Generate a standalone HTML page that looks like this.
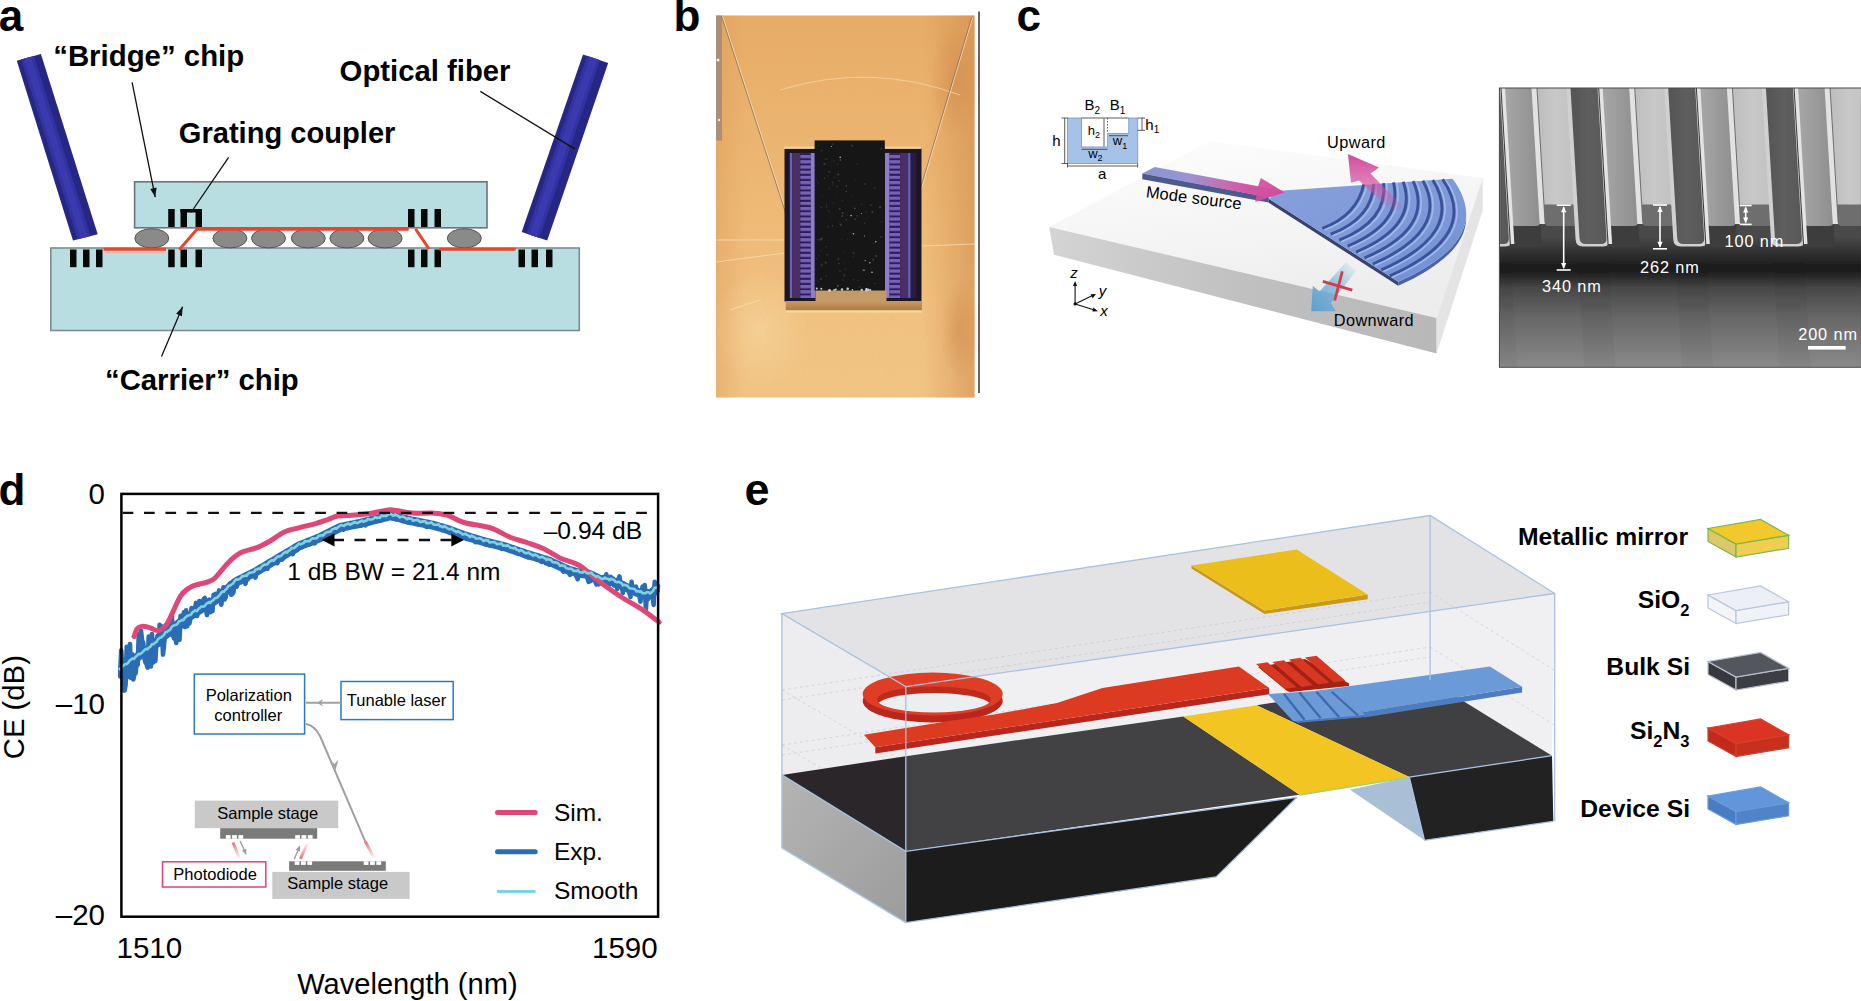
<!DOCTYPE html>
<html><head><meta charset="utf-8"><title>Figure</title>
<style>html,body{margin:0;padding:0;background:#fff;}body{width:1861px;height:1001px;overflow:hidden;}
svg{display:block;font-family:"Liberation Sans",sans-serif;}</style></head>
<body><svg width="1861" height="1001" viewBox="0 0 1861 1001">
<rect width="1861" height="1001" fill="#fff"/>
<text x="-1.3" y="31.3" font-size="44" font-weight="bold" text-anchor="start" fill="#000" >a</text>
<text x="673.6" y="31.2" font-size="44" font-weight="bold" text-anchor="start" fill="#000" >b</text>
<text x="1016.6" y="31.3" font-size="44" font-weight="bold" text-anchor="start" fill="#000" >c</text>
<text x="-1.6" y="505.4" font-size="44" font-weight="bold" text-anchor="start" fill="#000" >d</text>
<defs>
<linearGradient id="fib" x1="0" y1="0" x2="1" y2="0">
<stop offset="0" stop-color="#22227a"/><stop offset="0.35" stop-color="#3a3aa8"/><stop offset="0.6" stop-color="#3232a0"/><stop offset="1" stop-color="#1c1c6e"/></linearGradient>
</defs>
<polygon points="16.8,60.8 40.9,54.1 97.7,234.2 73,240.5" fill="#262684"/>
<polygon points="21,59.6 34,56 90.6,236 77.6,239.3" fill="#3232a0"/>
<polygon points="24,58.8 31,56.8 87.5,236.8 80.5,238.6" fill="#3a3aae"/>
<polygon points="583,54.5 608.2,62.9 547.2,240.5 521.7,232" fill="#262684"/>
<polygon points="587,55.8 600,60.2 539.5,238 526.5,233.6" fill="#3232a0"/>
<polygon points="590,56.8 597,59.2 536.5,237 529.5,234.6" fill="#3a3aae"/>
<rect x="50.8" y="248" width="528.5" height="82.5" fill="#b8dee2" stroke="#7d8c90" stroke-width="1.6"/>
<rect x="134.6" y="181.8" width="352.4" height="46" fill="#b8dee2" stroke="#6d7478" stroke-width="1.6"/>
<ellipse cx="151.8" cy="238.3" rx="17" ry="9.6" fill="#8a8a8a" stroke="#555" stroke-width="1"/>
<ellipse cx="229.9" cy="238.3" rx="17" ry="9.6" fill="#8a8a8a" stroke="#555" stroke-width="1"/>
<ellipse cx="268.5" cy="238.3" rx="17" ry="9.6" fill="#8a8a8a" stroke="#555" stroke-width="1"/>
<ellipse cx="308.3" cy="238.3" rx="17" ry="9.6" fill="#8a8a8a" stroke="#555" stroke-width="1"/>
<ellipse cx="346.9" cy="238.3" rx="17" ry="9.6" fill="#8a8a8a" stroke="#555" stroke-width="1"/>
<ellipse cx="385.1" cy="238.3" rx="17" ry="9.6" fill="#8a8a8a" stroke="#555" stroke-width="1"/>
<ellipse cx="464.3" cy="238.3" rx="17" ry="9.6" fill="#8a8a8a" stroke="#555" stroke-width="1"/>
<rect x="70" y="249.5" width="6.5" height="17.69999999999999" fill="#080808"/>
<rect x="83" y="249.5" width="6.5" height="17.69999999999999" fill="#080808"/>
<rect x="96" y="249.5" width="6.5" height="17.69999999999999" fill="#080808"/>
<rect x="168.2" y="249.5" width="6.5" height="17.69999999999999" fill="#080808"/>
<rect x="180.5" y="249.5" width="6.5" height="17.69999999999999" fill="#080808"/>
<rect x="195.5" y="249.5" width="6.5" height="17.69999999999999" fill="#080808"/>
<rect x="408" y="249.5" width="6.5" height="17.69999999999999" fill="#080808"/>
<rect x="421" y="249.5" width="6.5" height="17.69999999999999" fill="#080808"/>
<rect x="434.5" y="249.5" width="6.5" height="17.69999999999999" fill="#080808"/>
<rect x="518.5" y="249.5" width="6.5" height="17.69999999999999" fill="#080808"/>
<rect x="531.5" y="249.5" width="6.5" height="17.69999999999999" fill="#080808"/>
<rect x="546" y="249.5" width="6.5" height="17.69999999999999" fill="#080808"/>
<rect x="168.2" y="209" width="6.5" height="18" fill="#080808"/>
<rect x="180.5" y="209" width="6.5" height="18" fill="#080808"/>
<rect x="195.5" y="209" width="6.5" height="18" fill="#080808"/>
<rect x="180.5" y="209" width="21.5" height="3.5" fill="#080808"/>
<rect x="408" y="209" width="6.5" height="18" fill="#080808"/>
<rect x="421" y="209" width="6.5" height="18" fill="#080808"/>
<rect x="434.5" y="209" width="6.5" height="18" fill="#080808"/>
<polyline points="103.6,249.2 166,249.2" stroke="#e8452c" stroke-width="3" fill="none"/>
<polyline points="104,252.8 166,252.8" stroke="#f3b6a8" stroke-width="1.5" fill="none"/>
<polyline points="179.2,249.8 197,229.2 408.7,229.2" stroke="#e8452c" stroke-width="3" fill="none"/>
<polyline points="415.5,228.8 429.1,249 " stroke="#e8452c" stroke-width="3" fill="none"/>
<polyline points="439.3,249.2 515.7,249.2" stroke="#e8452c" stroke-width="3" fill="none"/>
<line x1="132.1" y1="82.4" x2="155.2" y2="197.1" stroke="#111" stroke-width="1.3"/>
<polygon points="155.2,197.1 150.3,188.9 156.6,187.6" fill="#111"/>
<line x1="228.6" y1="157.3" x2="191" y2="212.5" stroke="#111" stroke-width="1.3"/>
<line x1="480.3" y1="91.4" x2="574.7" y2="148.9" stroke="#111" stroke-width="1.3"/>
<line x1="161.5" y1="356.5" x2="182.6" y2="306.7" stroke="#111" stroke-width="1.3"/>
<polygon points="182.6,306.7 182.0,316.2 176.1,313.7" fill="#111"/>
<text x="53.2" y="66" font-size="29.4" font-weight="bold" text-anchor="start" fill="#000" >“Bridge” chip</text>
<text x="339.6" y="80.6" font-size="29.3" font-weight="bold" text-anchor="start" fill="#000" >Optical fiber</text>
<text x="178.8" y="142.6" font-size="29.1" font-weight="bold" text-anchor="start" fill="#000" >Grating coupler</text>
<text x="105" y="390" font-size="29.3" font-weight="bold" text-anchor="start" fill="#000" >“Carrier” chip</text>
<defs><filter id="soft" x="-2%" y="-2%" width="104%" height="104%"><feGaussianBlur stdDeviation="0.55"/></filter><filter id="soft2" x="-2%" y="-2%" width="104%" height="104%"><feGaussianBlur stdDeviation="0.4"/></filter></defs>
<g filter="url(#soft)">
<defs>
<radialGradient id="tan" cx="0.5" cy="0.45" r="0.75">
<stop offset="0" stop-color="#e8b778"/><stop offset="0.6" stop-color="#e0aa66"/><stop offset="1" stop-color="#d49a54"/></radialGradient>
<linearGradient id="brz" x1="0" y1="0" x2="0" y2="1"><stop offset="0" stop-color="#c8b090"/><stop offset="1" stop-color="#8f7a5c"/></linearGradient>
<pattern id="pgr" x="0" y="155" width="20" height="5.2" patternUnits="userSpaceOnUse">
<rect width="20" height="5.2" fill="#2a1a58"/><rect x="0" y="0" width="20" height="3.2" fill="#7862b8"/></pattern>
</defs>
<defs><linearGradient id="tanV" x1="0" y1="0" x2="0" y2="1"><stop offset="0" stop-color="#e9ad66"/><stop offset="0.35" stop-color="#eeb670"/><stop offset="0.75" stop-color="#f3c27e"/><stop offset="1" stop-color="#f4c684"/></linearGradient><linearGradient id="tanH" x1="0" y1="0" x2="1" y2="0"><stop offset="0" stop-color="#d89450" stop-opacity="0.35"/><stop offset="0.12" stop-color="#d89450" stop-opacity="0"/><stop offset="0.8" stop-color="#d08848" stop-opacity="0"/><stop offset="1" stop-color="#d08848" stop-opacity="0.55"/></linearGradient><radialGradient id="blot" cx="0.5" cy="0.5" r="0.5"><stop offset="0" stop-color="#c87838" stop-opacity="0.35"/><stop offset="1" stop-color="#c87838" stop-opacity="0"/></radialGradient><radialGradient id="lite" cx="0.5" cy="0.5" r="0.5"><stop offset="0" stop-color="#fbe0b0" stop-opacity="0.45"/><stop offset="1" stop-color="#fbe0b0" stop-opacity="0"/></radialGradient><filter id="grain" x="0" y="0" width="1" height="1"><feTurbulence type="fractalNoise" baseFrequency="0.35" numOctaves="2" seed="4"/><feColorMatrix values="0 0 0 0 0.5  0 0 0 0 0.35  0 0 0 0 0.2  0 0 0 0.10 0"/><feComposite in2="SourceGraphic" operator="in"/></filter></defs>
<rect x="716" y="15.5" width="258.5" height="382" fill="url(#tanV)"/>
<rect x="716" y="15.5" width="258.5" height="382" fill="url(#tanH)"/>
<ellipse cx="955" cy="80" rx="25" ry="60" fill="url(#blot)"/>
<ellipse cx="960" cy="330" rx="20" ry="50" fill="url(#blot)"/>
<ellipse cx="760" cy="330" rx="50" ry="60" fill="url(#lite)"/>
<rect x="716" y="15.5" width="258.5" height="382" fill="#fff" filter="url(#grain)"/>
<rect x="716" y="15.5" width="6" height="125" fill="#a08a78" opacity="0.85"/>
<circle cx="718" cy="60" r="1.5" fill="#f0f0f0"/><circle cx="719" cy="120" r="1.2" fill="#f0f0f0"/>
<path d="M780,90 Q870,62 960,95" stroke="#f8d8a8" stroke-width="1" fill="none" opacity="0.7"/>
<path d="M716,240 L785,240 M716,262 L785,253 M921,246 L974,244 M730,310 L760,300" stroke="#f8dcb0" stroke-width="1" fill="none" opacity="0.8"/>
<line x1="722.5" y1="16" x2="791.5" y2="228" stroke="#f4e2c4" stroke-width="1" opacity="0.8"/>
<line x1="721.5" y1="16" x2="790.5" y2="228" stroke="#8c7058" stroke-width="0.9" opacity="0.85"/>
<line x1="972.5" y1="18" x2="912.5" y2="218" stroke="#f4e2c4" stroke-width="1" opacity="0.8"/>
<line x1="971.5" y1="18" x2="911.5" y2="218" stroke="#8c7058" stroke-width="0.9" opacity="0.85"/>
<rect x="784.5" y="148.5" width="137" height="153" fill="#1e1420"/>
<rect x="784" y="146.5" width="31" height="2.5" fill="#f4d8a0" opacity="0.8"/><rect x="885" y="146.5" width="36" height="2.5" fill="#f4d8a0" opacity="0.8"/>
<rect x="789.8" y="153" width="2.4" height="145" fill="#6464c4"/>
<rect x="792.2" y="153" width="8.1" height="145" fill="#4c2e64"/>
<rect x="800.3" y="153" width="10.5" height="145" fill="url(#pgr)"/>
<rect x="810.8" y="153" width="4.6" height="145" fill="#8e7ec8"/>
<rect x="885" y="153" width="4.6" height="145" fill="#8e7ec8"/>
<rect x="889.6" y="153" width="10.5" height="145" fill="url(#pgr)"/>
<rect x="900.1" y="153" width="8.1" height="145" fill="#4c2e64"/>
<rect x="908.2" y="153" width="2.4" height="145" fill="#6464c4"/>
<rect x="910.6" y="153" width="6" height="145" fill="#2a1e40"/>
<defs><linearGradient id="brz2" x1="0" y1="0" x2="0" y2="1"><stop offset="0" stop-color="#c89a62"/><stop offset="1" stop-color="#ae7c46"/></linearGradient></defs>
<rect x="785.7" y="301" width="136.3" height="9.4" fill="url(#brz2)"/>
<rect x="785.7" y="310.4" width="136.3" height="2.2" fill="#f6d89e"/>
<rect x="815.5" y="290.2" width="71" height="10.8" fill="#c49a68"/>
<rect x="814.6" y="140.4" width="70.2" height="150" fill="#161616"/>
<circle cx="837.7" cy="164.0" r="0.9" fill="#555" opacity="0.33"/>
<circle cx="851.9" cy="195.4" r="0.5" fill="#555" opacity="0.50"/>
<circle cx="818.5" cy="205.3" r="0.5" fill="#555" opacity="0.34"/>
<circle cx="844.4" cy="262.7" r="0.6" fill="#555" opacity="0.39"/>
<circle cx="858.0" cy="280.4" r="0.8" fill="#555" opacity="0.46"/>
<circle cx="881.4" cy="148.8" r="1.0" fill="#555" opacity="0.42"/>
<circle cx="825.7" cy="159.2" r="0.7" fill="#555" opacity="0.63"/>
<circle cx="828.1" cy="226.9" r="0.9" fill="#555" opacity="0.45"/>
<circle cx="852.7" cy="151.2" r="0.5" fill="#555" opacity="0.38"/>
<circle cx="861.6" cy="204.4" r="0.7" fill="#555" opacity="0.53"/>
<circle cx="846.4" cy="185.8" r="1.0" fill="#555" opacity="0.58"/>
<circle cx="832.4" cy="225.9" r="0.8" fill="#555" opacity="0.65"/>
<circle cx="864.9" cy="184.0" r="1.1" fill="#555" opacity="0.35"/>
<circle cx="844.0" cy="252.5" r="0.6" fill="#555" opacity="0.50"/>
<circle cx="818.6" cy="239.6" r="1.0" fill="#555" opacity="0.53"/>
<circle cx="874.7" cy="187.8" r="0.9" fill="#555" opacity="0.54"/>
<circle cx="854.9" cy="208.6" r="1.0" fill="#555" opacity="0.68"/>
<circle cx="847.8" cy="239.0" r="0.5" fill="#555" opacity="0.58"/>
<circle cx="859.4" cy="287.0" r="1.0" fill="#555" opacity="0.41"/>
<circle cx="841.8" cy="239.6" r="0.5" fill="#555" opacity="0.48"/>
<circle cx="827.3" cy="159.1" r="0.5" fill="#555" opacity="0.61"/>
<circle cx="824.7" cy="178.2" r="0.7" fill="#555" opacity="0.65"/>
<circle cx="821.4" cy="207.6" r="0.8" fill="#555" opacity="0.65"/>
<circle cx="870.9" cy="268.1" r="0.7" fill="#555" opacity="0.47"/>
<circle cx="840.0" cy="271.1" r="1.1" fill="#555" opacity="0.36"/>
<circle cx="827.8" cy="175.9" r="0.6" fill="#555" opacity="0.49"/>
<circle cx="855.5" cy="180.4" r="0.5" fill="#555" opacity="0.47"/>
<circle cx="840.7" cy="224.7" r="1.1" fill="#555" opacity="0.58"/>
<circle cx="850.5" cy="232.2" r="0.9" fill="#555" opacity="0.32"/>
<circle cx="876.3" cy="255.9" r="1.0" fill="#555" opacity="0.62"/>
<circle cx="842.3" cy="200.3" r="0.6" fill="#555" opacity="0.55"/>
<circle cx="820.2" cy="151.8" r="0.6" fill="#555" opacity="0.36"/>
<circle cx="838.8" cy="149.7" r="0.5" fill="#555" opacity="0.36"/>
<circle cx="822.8" cy="195.1" r="0.5" fill="#555" opacity="0.65"/>
<circle cx="857.1" cy="163.7" r="0.7" fill="#555" opacity="0.44"/>
<circle cx="840.4" cy="159.9" r="1.0" fill="#555" opacity="0.70"/>
<circle cx="847.2" cy="212.6" r="0.6" fill="#555" opacity="0.34"/>
<circle cx="839.0" cy="180.7" r="1.0" fill="#555" opacity="0.36"/>
<circle cx="817.5" cy="280.8" r="0.8" fill="#555" opacity="0.36"/>
<circle cx="852.4" cy="145.9" r="0.8" fill="#555" opacity="0.69"/>
<circle cx="873.8" cy="243.6" r="0.7" fill="#555" opacity="0.45"/>
<circle cx="827.2" cy="254.7" r="0.8" fill="#555" opacity="0.61"/>
<circle cx="838.1" cy="174.6" r="1.0" fill="#555" opacity="0.69"/>
<circle cx="873.1" cy="259.7" r="1.0" fill="#555" opacity="0.60"/>
<circle cx="831.2" cy="217.6" r="0.7" fill="#555" opacity="0.31"/>
<circle cx="817.9" cy="182.8" r="0.7" fill="#555" opacity="0.58"/>
<circle cx="880.1" cy="207.3" r="1.1" fill="#555" opacity="0.70"/>
<circle cx="880.0" cy="195.2" r="0.6" fill="#555" opacity="0.39"/>
<circle cx="829.2" cy="171.8" r="0.9" fill="#555" opacity="0.66"/>
<circle cx="872.3" cy="212.0" r="0.9" fill="#555" opacity="0.62"/>
<circle cx="821.7" cy="238.4" r="1.0" fill="#555" opacity="0.61"/>
<circle cx="866.3" cy="211.8" r="0.6" fill="#555" opacity="0.62"/>
<circle cx="838.3" cy="258.9" r="1.1" fill="#555" opacity="0.46"/>
<circle cx="842.9" cy="280.2" r="0.9" fill="#555" opacity="0.37"/>
<circle cx="824.5" cy="164.1" r="1.0" fill="#555" opacity="0.62"/>
<circle cx="825.8" cy="262.7" r="1.1" fill="#555" opacity="0.56"/>
<circle cx="839.5" cy="222.1" r="0.6" fill="#555" opacity="0.31"/>
<circle cx="881.0" cy="236.9" r="0.8" fill="#555" opacity="0.67"/>
<circle cx="845.1" cy="269.3" r="1.0" fill="#555" opacity="0.38"/>
<circle cx="832.9" cy="184.8" r="0.6" fill="#555" opacity="0.53"/>
<circle cx="833.4" cy="203.2" r="0.6" fill="#555" opacity="0.66"/>
<circle cx="839.7" cy="208.9" r="0.9" fill="#555" opacity="0.66"/>
<circle cx="844.2" cy="276.0" r="0.8" fill="#555" opacity="0.51"/>
<circle cx="851.1" cy="144.7" r="0.8" fill="#555" opacity="0.37"/>
<circle cx="816.3" cy="258.7" r="0.6" fill="#555" opacity="0.49"/>
<circle cx="864.6" cy="223.2" r="0.7" fill="#555" opacity="0.51"/>
<circle cx="853.2" cy="256.5" r="0.6" fill="#555" opacity="0.52"/>
<circle cx="832.6" cy="182.4" r="1.0" fill="#555" opacity="0.50"/>
<circle cx="853.6" cy="253.0" r="1.0" fill="#555" opacity="0.48"/>
<circle cx="857.0" cy="215.8" r="0.8" fill="#555" opacity="0.58"/>
<circle cx="846.3" cy="219.9" r="0.8" fill="#555" opacity="0.68"/>
<circle cx="862.8" cy="270.0" r="1.1" fill="#555" opacity="0.40"/>
<circle cx="853.5" cy="279.7" r="1.0" fill="#555" opacity="0.35"/>
<circle cx="824.1" cy="206.5" r="0.5" fill="#555" opacity="0.40"/>
<circle cx="820.9" cy="239.7" r="1.0" fill="#555" opacity="0.66"/>
<circle cx="826.3" cy="246.6" r="0.9" fill="#555" opacity="0.36"/>
<circle cx="875.1" cy="283.3" r="0.6" fill="#555" opacity="0.68"/>
<circle cx="842.7" cy="213.1" r="1.1" fill="#555" opacity="0.63"/>
<circle cx="826.8" cy="205.0" r="0.8" fill="#555" opacity="0.44"/>
<circle cx="829.1" cy="188.5" r="0.9" fill="#555" opacity="0.31"/>
<circle cx="853.1" cy="206.3" r="0.5" fill="#555" opacity="0.43"/>
<circle cx="857.8" cy="216.8" r="0.5" fill="#555" opacity="0.69"/>
<circle cx="868.8" cy="283.9" r="0.6" fill="#555" opacity="0.41"/>
<circle cx="818.7" cy="255.7" r="0.7" fill="#555" opacity="0.35"/>
<circle cx="844.3" cy="275.1" r="1.0" fill="#555" opacity="0.40"/>
<circle cx="826.0" cy="276.2" r="0.8" fill="#555" opacity="0.58"/>
<circle cx="822.0" cy="150.4" r="0.9" fill="#555" opacity="0.47"/>
<circle cx="820.9" cy="279.0" r="0.9" fill="#555" opacity="0.62"/>
<circle cx="821.6" cy="267.0" r="0.5" fill="#555" opacity="0.65"/>
<circle cx="846.4" cy="191.5" r="0.8" fill="#555" opacity="0.67"/>
<circle cx="833.9" cy="160.9" r="0.8" fill="#555" opacity="0.40"/>
<circle cx="823.3" cy="165.6" r="0.5" fill="#555" opacity="0.38"/>
<circle cx="836.9" cy="186.5" r="1.0" fill="#555" opacity="0.42"/>
<circle cx="849.5" cy="168.0" r="0.7" fill="#555" opacity="0.31"/>
<circle cx="832.8" cy="144.2" r="0.9" fill="#555" opacity="0.52"/>
<circle cx="828.7" cy="211.3" r="1.1" fill="#555" opacity="0.34"/>
<circle cx="870.9" cy="205.1" r="0.8" fill="#555" opacity="0.63"/>
<circle cx="842.3" cy="216.0" r="0.9" fill="#555" opacity="0.69"/>
<circle cx="839.0" cy="263.5" r="0.9" fill="#555" opacity="0.55"/>
<circle cx="843.1" cy="192.7" r="0.5" fill="#555" opacity="0.35"/>
<circle cx="820.7" cy="250.2" r="0.7" fill="#555" opacity="0.37"/>
<circle cx="821.7" cy="264.8" r="1.0" fill="#555" opacity="0.57"/>
<circle cx="834.9" cy="177.4" r="0.7" fill="#555" opacity="0.48"/>
<circle cx="826.6" cy="207.1" r="0.7" fill="#555" opacity="0.68"/>
<circle cx="881.2" cy="221.9" r="0.6" fill="#555" opacity="0.69"/>
<circle cx="836.7" cy="194.1" r="0.5" fill="#555" opacity="0.45"/>
<circle cx="847.8" cy="215.4" r="0.6" fill="#555" opacity="0.50"/>
<circle cx="816.3" cy="180.6" r="0.6" fill="#555" opacity="0.46"/>
<circle cx="818.8" cy="145.3" r="0.7" fill="#555" opacity="0.39"/>
<circle cx="855.2" cy="219.3" r="1.0" fill="#555" opacity="0.56"/>
<circle cx="864.0" cy="270.3" r="0.7" fill="#ddd" opacity="0.8"/>
<circle cx="837.9" cy="285.8" r="0.6" fill="#ddd" opacity="0.8"/>
<circle cx="864.5" cy="235.9" r="0.5" fill="#ddd" opacity="0.8"/>
<circle cx="872.0" cy="272.2" r="0.8" fill="#ddd" opacity="0.8"/>
<circle cx="865.2" cy="260.6" r="0.6" fill="#ddd" opacity="0.8"/>
<circle cx="851.1" cy="215.6" r="0.8" fill="#ddd" opacity="0.8"/>
<circle cx="869.9" cy="262.7" r="0.7" fill="#ddd" opacity="0.8"/>
<circle cx="875.8" cy="241.7" r="0.8" fill="#ddd" opacity="0.8"/>
<circle cx="831.4" cy="146.5" r="0.6" fill="#ddd" opacity="0.8"/>
<circle cx="840.2" cy="157.3" r="0.8" fill="#ddd" opacity="0.8"/>
<circle cx="853.4" cy="233.7" r="0.8" fill="#ddd" opacity="0.8"/>
<circle cx="861.6" cy="213.4" r="0.5" fill="#ddd" opacity="0.8"/>
<circle cx="870.2" cy="290.0" r="1.1" fill="#e8e8f0" opacity="0.85"/>
<circle cx="852.4" cy="289.8" r="0.8" fill="#e8e8f0" opacity="0.85"/>
<circle cx="866.1" cy="289.0" r="0.8" fill="#e8e8f0" opacity="0.85"/>
<circle cx="834.1" cy="290.0" r="0.9" fill="#e8e8f0" opacity="0.85"/>
<circle cx="866.3" cy="290.5" r="1.1" fill="#e8e8f0" opacity="0.85"/>
<circle cx="842.0" cy="289.5" r="1.2" fill="#e8e8f0" opacity="0.85"/>
<circle cx="868.2" cy="289.7" r="1.2" fill="#e8e8f0" opacity="0.85"/>
<circle cx="821.3" cy="288.8" r="1.0" fill="#e8e8f0" opacity="0.85"/>
<circle cx="866.5" cy="289.1" r="1.1" fill="#e8e8f0" opacity="0.85"/>
<circle cx="816.8" cy="288.6" r="1.0" fill="#e8e8f0" opacity="0.85"/>
<circle cx="861.7" cy="289.9" r="1.2" fill="#e8e8f0" opacity="0.85"/>
<circle cx="835.8" cy="289.5" r="1.1" fill="#e8e8f0" opacity="0.85"/>
<circle cx="847.7" cy="288.7" r="1.3" fill="#e8e8f0" opacity="0.85"/>
<circle cx="829.5" cy="290.5" r="1.4" fill="#e8e8f0" opacity="0.85"/>
</g>
<line x1="979" y1="11.5" x2="979" y2="393" stroke="#4b5364" stroke-width="1.8"/>
<defs>
<linearGradient id="slabtop" x1="0" y1="0" x2="0.3" y2="1"><stop offset="0" stop-color="#fdfdfd"/><stop offset="0.5" stop-color="#f6f6f6"/><stop offset="1" stop-color="#ededed"/></linearGradient>
<linearGradient id="slabfront" x1="0" y1="0" x2="1" y2="0"><stop offset="0" stop-color="#d4d4d4"/><stop offset="0.5" stop-color="#c0c0c0"/><stop offset="1" stop-color="#b8b8b8"/></linearGradient>
<linearGradient id="wgtop" x1="0" y1="0" x2="1" y2="0"><stop offset="0" stop-color="#8696d4"/><stop offset="0.45" stop-color="#a294d2"/><stop offset="0.75" stop-color="#c888c4"/><stop offset="1" stop-color="#d070b0"/></linearGradient>
<linearGradient id="pinkR" x1="0" y1="0" x2="1" y2="0"><stop offset="0" stop-color="#d4509e" stop-opacity="0"/><stop offset="0.6" stop-color="#d4509e" stop-opacity="0.85"/><stop offset="1" stop-color="#d24a9c"/></linearGradient>
<linearGradient id="pinkU" x1="0" y1="1" x2="0" y2="0"><stop offset="0" stop-color="#d4509e" stop-opacity="0"/><stop offset="0.5" stop-color="#d4509e" stop-opacity="0.7"/><stop offset="1" stop-color="#d24a9c"/></linearGradient>
<linearGradient id="bluD" x1="1" y1="0" x2="0" y2="1"><stop offset="0" stop-color="#78b8e0" stop-opacity="0"/><stop offset="0.5" stop-color="#6aacd6" stop-opacity="0.7"/><stop offset="1" stop-color="#5aa2d0"/></linearGradient>
<linearGradient id="fan" x1="0" y1="0" x2="1" y2="1"><stop offset="0" stop-color="#86a0dc"/><stop offset="0.5" stop-color="#7f9ad8"/><stop offset="1" stop-color="#7090d2"/></linearGradient>
</defs>
<polygon points="1049.2,227.1 1210,141 1482.8,178 1436.6,318" fill="url(#slabtop)"/>
<polygon points="1049.2,227.1 1436.6,318 1436.6,353.4 1054,254.7" fill="url(#slabfront)"/>
<polygon points="1436.6,318 1482.8,178 1482.8,210.3 1436.6,353.4" fill="#e4e4e4"/>
<polygon points="1142.3,173.4 1154.7,166.9 1282,190.5 1268.8,197.2" fill="url(#wgtop)"/>
<polygon points="1142.3,173.4 1268.8,197.2 1268.8,202.5 1142.3,179.3" fill="#4d5a8e"/>
<polygon points="1268.8,198.7 1398.2,281.8 1398.2,285.8 1268.8,202.7" fill="#39446e"/>
<polygon points="1466.1,216.4 1465.5,220.9 1464.5,225.3 1463.0,229.7 1461.0,234.0 1458.5,238.3 1455.5,242.5 1452.0,246.7 1448.0,250.8 1443.5,254.8 1438.5,258.8 1433.0,262.8 1427.0,266.7 1420.6,270.6 1413.6,274.4 1406.2,278.1 1398.2,281.8 1398.2,285.8 1406.2,282.1 1413.6,278.4 1420.6,274.6 1427.0,270.7 1433.0,266.8 1438.5,262.8 1443.5,258.8 1448.0,254.8 1452.0,250.7 1455.5,246.5 1458.5,242.3 1461.0,238.0 1463.0,233.7 1464.5,229.3 1465.5,224.9 1466.1,220.4" fill="#4a62a8"/>
<polygon points="1268.8,198.7 1280.0,190.7 1452.5,178.7 1455.9,183.6 1458.9,188.4 1461.3,193.2 1463.2,198.0 1464.7,202.7 1465.6,207.3 1466.1,211.9 1466.1,216.4 1465.5,220.9 1464.5,225.3 1463.0,229.7 1461.0,234.0 1458.5,238.3 1455.5,242.5 1452.0,246.7 1448.0,250.8 1443.5,254.8 1438.5,258.8 1433.0,262.8 1427.0,266.7 1420.6,270.6 1413.6,274.4 1406.2,278.1 1398.2,281.8" fill="url(#fan)"/>
<path d="M1363.8,184.3 Q1357.0,215.7 1322.3,228.3" stroke="#3a529a" stroke-width="2.9" fill="none"/>
<path d="M1367.0,184.6 Q1360.2,216.9 1324.5,229.9" stroke="#a8bfef" stroke-width="1.6" fill="none" opacity="0.85"/>
<path d="M1373.7,183.7 Q1372.5,218.1 1330.7,234.2" stroke="#3a529a" stroke-width="2.9" fill="none"/>
<path d="M1376.9,184.0 Q1375.7,219.3 1332.9,235.8" stroke="#a8bfef" stroke-width="1.6" fill="none" opacity="0.85"/>
<path d="M1383.5,183.1 Q1388.0,220.6 1339.2,240.2" stroke="#3a529a" stroke-width="2.9" fill="none"/>
<path d="M1386.7,183.4 Q1391.2,221.8 1341.4,241.8" stroke="#a8bfef" stroke-width="1.6" fill="none" opacity="0.85"/>
<path d="M1393.4,182.4 Q1403.5,223.0 1347.6,246.1" stroke="#3a529a" stroke-width="2.9" fill="none"/>
<path d="M1396.6,182.7 Q1406.7,224.2 1349.8,247.7" stroke="#a8bfef" stroke-width="1.6" fill="none" opacity="0.85"/>
<path d="M1403.2,181.8 Q1419.0,225.5 1356.0,252.1" stroke="#3a529a" stroke-width="2.9" fill="none"/>
<path d="M1406.4,182.1 Q1422.2,226.7 1358.2,253.7" stroke="#a8bfef" stroke-width="1.6" fill="none" opacity="0.85"/>
<path d="M1413.1,181.2 Q1434.6,227.9 1364.5,258.0" stroke="#3a529a" stroke-width="2.9" fill="none"/>
<path d="M1416.3,181.5 Q1437.8,229.1 1366.7,259.6" stroke="#a8bfef" stroke-width="1.6" fill="none" opacity="0.85"/>
<path d="M1422.9,180.6 Q1450.1,230.4 1372.9,264.0" stroke="#3a529a" stroke-width="2.9" fill="none"/>
<path d="M1426.1,180.9 Q1453.3,231.6 1375.1,265.6" stroke="#a8bfef" stroke-width="1.6" fill="none" opacity="0.85"/>
<path d="M1432.8,179.9 Q1465.6,232.8 1381.3,269.9" stroke="#3a529a" stroke-width="2.9" fill="none"/>
<path d="M1436.0,180.2 Q1468.8,234.0 1383.5,271.5" stroke="#a8bfef" stroke-width="1.6" fill="none" opacity="0.85"/>
<path d="M1442.6,179.3 Q1481.1,235.3 1389.8,275.9" stroke="#3a529a" stroke-width="2.9" fill="none"/>
<path d="M1445.8,179.6 Q1484.3,236.5 1392.0,277.5" stroke="#a8bfef" stroke-width="1.6" fill="none" opacity="0.85"/>
<polygon points="1190,174 1258,186.5 1260.8,177.9 1284.5,192.6 1255.2,201.9 1256.5,195 1188,182.2" fill="url(#pinkR)"/>
<polygon points="1393.4,213.1 1359,180.5 1351,182.7 1347.9,154 1379,167.6 1370.5,173.5 1403,207" fill="url(#pinkU)"/>
<polygon points="1356.3,271 1330.8,303 1336,311.3 1311.2,311.3 1312.8,285.8 1319.6,291.4 1346,262" fill="url(#bluD)"/>
<line x1="1322.8" y1="281.4" x2="1352.3" y2="290.2" stroke="#cf3f4a" stroke-width="2.8"/>
<line x1="1342.3" y1="271.4" x2="1334.7" y2="300.5" stroke="#cf3f4a" stroke-width="2.8"/>
<text x="1327" y="147.8" font-size="16.3" letter-spacing="0.45">Upward</text>
<text x="1333.8" y="325.7" font-size="16.3" letter-spacing="0.4">Downward</text>
<text x="1145.4" y="197.3" font-size="16.4" letter-spacing="0.15" transform="rotate(7.3 1145.4 197.3)">Mode source</text>
<g stroke="#111" stroke-width="1.1" fill="none"><line x1="1075.1" y1="303.9" x2="1075.1" y2="283"/><line x1="1075.1" y1="303.9" x2="1094" y2="294.8"/><line x1="1075.1" y1="303.9" x2="1096" y2="310.5"/></g>
<circle cx="1075.1" cy="303.9" r="1.6" fill="#111"/>
<polygon points="1075.1,281 1073,286 1077.2,286" fill="#111"/><polygon points="1096,294 1090.5,294.2 1092.7,298.2" fill="#111"/><polygon points="1098,311.2 1093.4,307.5 1092.3,311.6" fill="#111"/>
<text x="1070.3" y="277.5" font-size="15" font-style="italic">z</text>
<text x="1098.8" y="295.5" font-size="15" font-style="italic">y</text>
<text x="1100.2" y="316" font-size="15" font-style="italic">x</text>
<path d="M1067.5,118 H1081.5 V146.9 H1107.6 V133.5 H1128.7 V118 H1137.7 V163.5 H1067.5 Z" fill="#a6c2e8" stroke="#6a88c0" stroke-width="0.7"/>
<g stroke="#333" stroke-width="0.8" fill="none"><line x1="1064.7" y1="118" x2="1064.7" y2="163.5"/><line x1="1061.5" y1="118" x2="1068" y2="118"/><line x1="1061.5" y1="163.5" x2="1068" y2="163.5"/><line x1="1067.5" y1="166" x2="1137.7" y2="166"/><line x1="1067.5" y1="163.5" x2="1067.5" y2="167.5"/><line x1="1137.7" y1="163.5" x2="1137.7" y2="167.5"/><line x1="1142" y1="118" x2="1142" y2="130.3"/><line x1="1138" y1="118" x2="1145" y2="118"/><line x1="1137.7" y1="130.3" x2="1145" y2="130.3"/><line x1="1081.5" y1="149.3" x2="1107.6" y2="149.3"/><line x1="1109" y1="135.7" x2="1128" y2="135.7"/><line x1="1104" y1="118.5" x2="1104" y2="146.5"/><line x1="1107.5" y1="118" x2="1107.5" y2="133" stroke-dasharray="1.5,1.5"/><line x1="1081.5" y1="118" x2="1128.7" y2="118"/></g>
<text x="1084.6" y="110.4" font-size="15">B<tspan font-size="10" dy="3.5">2</tspan></text>
<text x="1109.7" y="110.4" font-size="15">B<tspan font-size="10" dy="3.5">1</tspan></text>
<text x="1145.3" y="129.8" font-size="15">h<tspan font-size="10" dy="3.5">1</tspan></text>
<text x="1087.8" y="134.6" font-size="13">h<tspan font-size="9" dy="3.5">2</tspan></text>
<text x="1112.8" y="145" font-size="13">w<tspan font-size="9" dy="3.5">1</tspan></text>
<text x="1088.2" y="157.8" font-size="13">w<tspan font-size="9" dy="3.5">2</tspan></text>
<text x="1052.3" y="146" font-size="15" text-anchor="start" fill="#000" >h</text>
<text x="1098" y="178.7" font-size="15" text-anchor="start" fill="#000" >a</text>
<defs>
<clipPath id="semclip"><rect x="1499.4" y="88" width="362" height="279.3"/></clipPath>
<linearGradient id="semlow" gradientUnits="userSpaceOnUse" x1="0" y1="240" x2="0" y2="367">
<stop offset="0" stop-color="#454545"/><stop offset="0.11" stop-color="#2e2e2e"/><stop offset="0.2" stop-color="#1e1e1e"/><stop offset="0.25" stop-color="#1e1e1e"/><stop offset="0.3" stop-color="#2e2e2e"/><stop offset="0.38" stop-color="#484848"/><stop offset="0.6" stop-color="#666"/><stop offset="1" stop-color="#8a8a8a"/></linearGradient>
<linearGradient id="ridgeG" x1="0" y1="0" x2="1" y2="0"><stop offset="0" stop-color="#bdbdbd"/><stop offset="0.5" stop-color="#c8c8c8"/><stop offset="1" stop-color="#c2c2c2"/></linearGradient>
<linearGradient id="stepG" x1="0" y1="0" x2="1" y2="0"><stop offset="0" stop-color="#a8a8a8"/><stop offset="1" stop-color="#8e8e8e"/></linearGradient>
<linearGradient id="grvG" x1="0" y1="0" x2="1" y2="0"><stop offset="0" stop-color="#555"/><stop offset="0.5" stop-color="#5e5e5e"/><stop offset="1" stop-color="#585858"/></linearGradient>
</defs>
<g clip-path="url(#semclip)"><g filter="url(#soft)">
<rect x="1499.4" y="88" width="362" height="279.3" fill="#4a4a4a"/>
<rect x="1499.4" y="238" width="362" height="129.3" fill="url(#semlow)"/>
<polygon points="1402.8,88.0 1434.8,88.0 1444.3,247.0 1412.3,247.0" fill="#3e3e3e" />
<path d="M1404.8,88 L1434.8,88 L1442.8,221 Q1443.1,226 1438.1,226 L1418.1,226 Q1413.1,226 1412.8,221 Z" fill="url(#stepG)" />
<polygon points="1433.8,88.0 1440.8,88.0 1449.0,224.0 1442.0,224.0" fill="#e2e2e2" />
<path d="M1438.8,88 L1471.8,88 L1479.8,222 Q1480.1,226 1476.1,226 L1451.1,226 Q1447.1,226 1446.8,222 Z" fill="#6e6e6e" />
<polygon points="1439.8,88.0 1469.8,88.0 1476.8,204.5 1446.8,204.5" fill="url(#ridgeG)" />
<path d="M1468.8,88 L1502.8,88 L1511.9,239.5 Q1512.3,246.5 1505.3,246.5 L1485.3,246.5 Q1478.3,246.5 1477.9,239.5 Z" fill="#d0d0d0" />
<path d="M1472.8,88 L1499.8,88 L1508.8,238 Q1509.2,244 1503.2,244 L1488.2,244 Q1482.2,244 1481.8,238 Z" fill="url(#grvG)" />
<polygon points="1403.8,88.0 1407.3,88.0 1416.7,244.0 1413.2,244.0" fill="#e4e4e4" />
<polygon points="1480.2,262.0 1511.2,262.0 1517.5,367.0 1486.5,367.0" fill="#000" opacity="0.035"/>
<polygon points="1500.5,88.0 1532.5,88.0 1542.0,247.0 1510.0,247.0" fill="#3e3e3e" />
<path d="M1502.5,88 L1532.5,88 L1540.5,221 Q1540.8,226 1535.8,226 L1515.8,226 Q1510.8,226 1510.5,221 Z" fill="url(#stepG)" />
<polygon points="1531.5,88.0 1538.5,88.0 1546.7,224.0 1539.7,224.0" fill="#e2e2e2" />
<path d="M1536.5,88 L1569.5,88 L1577.5,222 Q1577.8,226 1573.8,226 L1548.8,226 Q1544.8,226 1544.5,222 Z" fill="#6e6e6e" />
<polygon points="1537.5,88.0 1567.5,88.0 1574.5,204.5 1544.5,204.5" fill="url(#ridgeG)" />
<path d="M1566.5,88 L1600.5,88 L1609.6,239.5 Q1610.0,246.5 1603.0,246.5 L1583.0,246.5 Q1576.0,246.5 1575.6,239.5 Z" fill="#d0d0d0" />
<path d="M1570.5,88 L1597.5,88 L1606.5,238 Q1606.9,244 1600.9,244 L1585.9,244 Q1579.9,244 1579.5,238 Z" fill="url(#grvG)" />
<polygon points="1501.5,88.0 1505.0,88.0 1514.4,244.0 1510.9,244.0" fill="#e4e4e4" />
<polygon points="1577.9,262.0 1608.9,262.0 1615.2,367.0 1584.2,367.0" fill="#000" opacity="0.035"/>
<polygon points="1598.2,88.0 1630.2,88.0 1639.7,247.0 1607.7,247.0" fill="#3e3e3e" />
<path d="M1600.2,88 L1630.2,88 L1638.2,221 Q1638.5,226 1633.5,226 L1613.5,226 Q1608.5,226 1608.2,221 Z" fill="url(#stepG)" />
<polygon points="1629.2,88.0 1636.2,88.0 1644.4,224.0 1637.4,224.0" fill="#e2e2e2" />
<path d="M1634.2,88 L1667.2,88 L1675.2,222 Q1675.5,226 1671.5,226 L1646.5,226 Q1642.5,226 1642.2,222 Z" fill="#6e6e6e" />
<polygon points="1635.2,88.0 1665.2,88.0 1672.2,204.5 1642.2,204.5" fill="url(#ridgeG)" />
<path d="M1664.2,88 L1698.2,88 L1707.3,239.5 Q1707.7,246.5 1700.7,246.5 L1680.7,246.5 Q1673.7,246.5 1673.3,239.5 Z" fill="#d0d0d0" />
<path d="M1668.2,88 L1695.2,88 L1704.2,238 Q1704.6,244 1698.6,244 L1683.6,244 Q1677.6,244 1677.2,238 Z" fill="url(#grvG)" />
<polygon points="1599.2,88.0 1602.7,88.0 1612.1,244.0 1608.6,244.0" fill="#e4e4e4" />
<polygon points="1675.6,262.0 1706.6,262.0 1712.9,367.0 1681.9,367.0" fill="#000" opacity="0.035"/>
<polygon points="1695.9,88.0 1727.9,88.0 1737.4,247.0 1705.4,247.0" fill="#3e3e3e" />
<path d="M1697.9,88 L1727.9,88 L1735.9,221 Q1736.2,226 1731.2,226 L1711.2,226 Q1706.2,226 1705.9,221 Z" fill="url(#stepG)" />
<polygon points="1726.9,88.0 1733.9,88.0 1742.1,224.0 1735.1,224.0" fill="#e2e2e2" />
<path d="M1731.9,88 L1764.9,88 L1772.9,222 Q1773.2,226 1769.2,226 L1744.2,226 Q1740.2,226 1739.9,222 Z" fill="#6e6e6e" />
<polygon points="1732.9,88.0 1762.9,88.0 1769.9,204.5 1739.9,204.5" fill="url(#ridgeG)" />
<path d="M1761.9,88 L1795.9,88 L1805.0,239.5 Q1805.4,246.5 1798.4,246.5 L1778.4,246.5 Q1771.4,246.5 1771.0,239.5 Z" fill="#d0d0d0" />
<path d="M1765.9,88 L1792.9,88 L1801.9,238 Q1802.3,244 1796.3,244 L1781.3,244 Q1775.3,244 1774.9,238 Z" fill="url(#grvG)" />
<polygon points="1696.9,88.0 1700.4,88.0 1709.8,244.0 1706.3,244.0" fill="#e4e4e4" />
<polygon points="1773.3,262.0 1804.3,262.0 1810.6,367.0 1779.6,367.0" fill="#000" opacity="0.035"/>
<polygon points="1793.6,88.0 1825.6,88.0 1835.1,247.0 1803.1,247.0" fill="#3e3e3e" />
<path d="M1795.6,88 L1825.6,88 L1833.6,221 Q1833.9,226 1828.9,226 L1808.9,226 Q1803.9,226 1803.6,221 Z" fill="url(#stepG)" />
<polygon points="1824.6,88.0 1831.6,88.0 1839.8,224.0 1832.8,224.0" fill="#e2e2e2" />
<path d="M1829.6,88 L1862.6,88 L1870.6,222 Q1870.9,226 1866.9,226 L1841.9,226 Q1837.9,226 1837.6,222 Z" fill="#6e6e6e" />
<polygon points="1830.6,88.0 1860.6,88.0 1867.6,204.5 1837.6,204.5" fill="url(#ridgeG)" />
<path d="M1859.6,88 L1893.6,88 L1902.7,239.5 Q1903.1,246.5 1896.1,246.5 L1876.1,246.5 Q1869.1,246.5 1868.7,239.5 Z" fill="#d0d0d0" />
<path d="M1863.6,88 L1890.6,88 L1899.6,238 Q1900.0,244 1894.0,244 L1879.0,244 Q1873.0,244 1872.6,238 Z" fill="url(#grvG)" />
<polygon points="1794.6,88.0 1798.1,88.0 1807.5,244.0 1804.0,244.0" fill="#e4e4e4" />
<polygon points="1871.0,262.0 1902.0,262.0 1908.3,367.0 1877.3,367.0" fill="#000" opacity="0.035"/>
</g></g>
<rect x="1499.4" y="88" width="362" height="279.3" fill="none" stroke="#4a4a4a" stroke-width="1"/>
<g stroke="#fff" stroke-width="1.6"><line x1="1556.7" y1="205.2" x2="1570.7" y2="205.2"/><line x1="1556.7" y1="270" x2="1570.7" y2="270"/><line x1="1563.7" y1="207.2" x2="1563.7" y2="268"/></g>
<polygon points="1563.7,206.2 1561.1000000000001,212.2 1566.3,212.2" fill="#fff"/><polygon points="1563.7,269 1561.1000000000001,263 1566.3,263" fill="#fff"/>
<g stroke="#fff" stroke-width="1.6"><line x1="1653" y1="205" x2="1667" y2="205"/><line x1="1653" y1="248.8" x2="1667" y2="248.8"/><line x1="1660" y1="207" x2="1660" y2="246.8"/></g>
<polygon points="1660,206 1657.4,212 1662.6,212" fill="#fff"/><polygon points="1660,247.8 1657.4,241.8 1662.6,241.8" fill="#fff"/>
<g stroke="#fff" stroke-width="1.6"><line x1="1739.7" y1="205.5" x2="1751.7" y2="205.5"/><line x1="1739.7" y1="224.4" x2="1751.7" y2="224.4"/><line x1="1745.7" y1="207.5" x2="1745.7" y2="222.4"/></g>
<polygon points="1745.7,206.5 1743.1000000000001,212.5 1748.3,212.5" fill="#fff"/><polygon points="1745.7,223.4 1743.1000000000001,217.4 1748.3,217.4" fill="#fff"/>
<text x="1542" y="291.5" font-size="16.3" letter-spacing="0.9" fill="#fff">340 nm</text>
<text x="1640" y="273" font-size="16.3" letter-spacing="0.9" fill="#fff">262 nm</text>
<text x="1724.5" y="247" font-size="16.3" letter-spacing="0.9" fill="#fff">100 nm</text>
<text x="1798.2" y="339.9" font-size="16.3" letter-spacing="0.9" fill="#fff">200 nm</text>
<rect x="1808" y="346" width="37.6" height="3.6" fill="#fff"/>
<defs><clipPath id="plotclip"><rect x="118" y="495" width="544" height="420"/></clipPath></defs>
<g clip-path="url(#plotclip)">
<polyline points="119.0,673.3 120.1,676.3 121.2,650.3 122.3,668.2 123.4,661.5 124.5,690.6 125.6,684.8 126.7,646.9 127.8,677.1 128.9,673.3 130.0,644.0 131.1,677.9 132.2,654.2 133.3,679.4 134.4,674.3 135.5,673.4 136.6,664.3 137.7,664.7 138.8,633.9 139.9,653.1 141.0,630.7 142.1,640.4 143.2,643.0 144.3,657.7 145.4,662.3 146.5,663.9 147.6,667.7 148.7,636.6 149.8,666.0 150.9,666.4 152.0,634.0 153.1,662.6 154.2,640.8 155.3,661.1 156.4,643.5 157.5,635.8 158.6,644.9 159.7,624.7 160.8,629.3 161.9,626.4 163.0,654.6 164.1,644.3 165.2,631.0 166.3,625.3 167.4,630.7 168.5,623.3 169.6,631.0 170.7,634.3 171.8,615.6 172.9,635.3 174.0,638.3 175.1,635.4 176.2,643.0 177.3,630.8 178.4,621.6 179.5,639.9 180.6,615.8 181.7,626.7 182.8,620.8 183.9,612.4 185.0,627.1 186.1,610.2 187.2,626.2 188.3,616.8 189.4,623.5 190.5,617.3 191.6,608.0 192.7,610.3 193.8,615.8 194.9,609.7 196.0,602.9 197.1,616.0 198.2,607.8 199.3,601.0 200.4,607.8 201.5,601.5 202.6,605.3 203.7,598.8 204.8,598.0 205.9,608.5 207.0,615.0 208.1,603.0 209.2,599.7 210.3,612.2 211.4,601.5 212.5,611.2 213.6,594.9 214.7,599.9 215.8,593.9 216.9,596.6 218.0,595.2 219.1,590.4 220.2,595.5 221.3,604.6 222.4,597.5 223.5,587.3 224.6,599.4 225.7,597.2 226.8,588.6 227.9,587.9 229.0,585.4 230.1,583.4 231.2,594.8 232.3,594.0 233.4,592.5 234.5,582.7 235.6,581.4 236.7,586.7 237.8,583.5 238.9,578.5 240.0,580.9 241.1,582.2 242.2,577.6 243.3,581.4 244.4,578.0 245.5,583.8 246.6,574.3 247.7,579.6 248.8,574.9 249.9,575.7 251.0,576.1 252.1,571.8 253.2,572.7 254.3,572.1 255.4,577.6 256.5,571.3 257.6,570.1 258.7,571.3 259.8,568.3 260.9,568.3 262.0,568.2 263.1,566.1 264.2,566.5 265.3,567.4 266.4,564.1 267.5,568.7 268.6,563.4 269.7,565.4 270.8,564.3 271.9,561.4 273.0,563.7 274.1,560.5 275.2,561.7 276.3,558.0 277.4,563.2 278.5,558.9 279.6,557.6 280.7,559.7 281.8,559.8 282.9,558.8 284.0,554.9 285.1,554.0 286.2,552.5 287.3,552.6 288.4,551.1 289.5,551.4 290.6,551.0 291.7,553.0 292.8,554.1 293.9,548.0 295.0,551.6 296.1,546.8 297.2,550.1 298.3,546.1 299.4,547.8 300.5,545.0 301.6,545.5 302.7,543.7 303.8,543.6 304.9,543.2 306.0,543.1 307.1,541.9 308.2,541.6 309.3,544.4 310.4,543.9 311.5,542.5 312.6,539.9 313.7,540.1 314.8,543.4 315.9,540.5 317.0,538.5 318.1,538.6 319.2,537.6 320.3,539.8 321.4,537.5 322.5,537.4 323.6,535.4 324.7,534.9 325.8,534.3 326.9,533.8 328.0,534.3 329.1,533.1 330.2,533.8 331.3,533.2 332.4,534.3 333.5,532.1 334.6,529.8 335.7,532.2 336.8,528.8 337.9,529.0 339.0,530.2 340.1,527.1 341.2,526.8 342.3,527.1 343.4,529.7 344.5,526.8 345.6,525.9 346.7,525.6 347.8,525.7 348.9,525.2 350.0,527.0 351.1,524.8 352.2,525.9 353.3,524.9 354.4,524.0 355.5,523.9 356.6,524.5 357.7,523.7 358.8,523.2 359.9,522.9 361.0,525.6 362.1,523.4 363.2,524.5 364.3,522.7 365.4,525.3 366.5,521.5 367.6,521.2 368.7,523.4 369.8,520.6 370.9,522.5 372.0,520.5 373.1,519.8 374.2,519.5 375.3,520.2 376.4,520.9 377.5,520.8 378.6,518.4 379.7,518.3 380.8,520.4 381.9,517.6 383.0,517.3 384.1,517.0 385.2,516.7 386.3,516.4 387.4,516.1 388.5,517.4 389.6,516.4 390.7,515.3 391.8,515.6 392.9,518.4 394.0,516.2 395.1,517.5 396.2,519.3 397.3,517.0 398.4,517.3 399.5,519.0 400.6,517.8 401.7,518.1 402.8,520.9 403.9,518.7 405.0,520.5 406.1,521.1 407.2,519.5 408.3,522.5 409.4,521.8 410.5,520.3 411.6,522.6 412.7,522.3 413.8,521.5 414.9,521.3 416.0,521.5 417.1,523.3 418.2,521.9 419.3,524.6 420.4,522.4 421.5,522.6 422.6,524.3 423.7,523.8 424.8,523.2 425.9,526.3 427.0,526.8 428.1,523.9 429.2,526.7 430.3,524.3 431.4,526.9 432.5,524.8 433.6,525.1 434.7,525.7 435.8,527.9 436.9,527.2 438.0,527.1 439.1,526.6 440.2,527.4 441.3,527.3 442.4,528.6 443.5,527.9 444.6,528.3 445.7,528.5 446.8,528.9 447.9,529.3 449.0,529.7 450.1,530.1 451.2,530.9 452.3,530.9 453.4,531.3 454.5,531.7 455.6,532.2 456.7,532.6 457.8,533.0 458.9,533.4 460.0,533.8 461.1,534.2 462.2,534.6 463.3,537.6 464.4,535.3 465.5,535.8 466.6,538.8 467.7,536.4 468.8,538.9 469.9,537.0 471.0,537.4 472.1,537.7 473.2,538.2 474.3,538.3 475.4,542.2 476.5,541.7 477.6,539.3 478.7,540.5 479.8,539.9 480.9,541.1 482.0,540.7 483.1,541.9 484.2,541.2 485.3,544.1 486.4,544.8 487.5,542.1 488.6,542.5 489.7,545.4 490.8,543.0 491.9,545.7 493.0,543.5 494.1,543.8 495.2,544.0 496.3,545.8 497.4,544.6 498.5,545.5 499.6,547.3 500.7,545.4 501.8,548.9 502.9,546.0 504.0,546.3 505.1,546.4 506.2,546.8 507.3,547.4 508.4,547.6 509.5,548.4 510.6,548.3 511.7,549.4 512.8,549.7 513.9,550.8 515.0,551.9 516.1,550.2 517.2,550.7 518.3,550.9 519.4,551.5 520.5,552.3 521.6,552.4 522.7,553.2 523.8,555.0 524.9,556.0 526.0,554.7 527.1,554.1 528.2,557.4 529.3,554.6 530.4,556.8 531.5,555.3 532.6,556.7 533.7,556.3 534.8,556.3 535.9,558.9 537.0,557.1 538.1,557.2 539.2,557.7 540.3,558.1 541.4,561.9 542.5,561.9 543.6,561.1 544.7,559.3 545.8,563.3 546.9,563.6 548.0,560.2 549.1,564.7 550.2,562.2 551.3,561.9 552.4,562.3 553.5,564.6 554.6,563.5 555.7,563.9 556.8,565.4 557.9,564.7 559.0,565.4 560.1,565.8 561.2,566.8 562.3,569.6 563.4,571.7 564.5,567.7 565.6,569.5 566.7,571.1 567.8,570.8 568.9,571.0 570.0,575.0 571.1,570.3 572.2,569.8 573.3,571.7 574.4,570.8 575.5,571.8 576.6,577.0 577.7,579.3 578.8,570.8 579.9,572.8 581.0,572.4 582.1,573.5 583.2,573.3 584.3,574.9 585.4,572.8 586.5,573.7 587.6,578.7 588.7,581.9 589.8,573.6 590.9,580.9 592.0,578.9 593.1,574.0 594.2,575.9 595.3,581.5 596.4,584.4 597.5,582.5 598.6,584.3 599.7,581.4 600.8,578.8 601.9,583.7 603.0,577.1 604.1,581.4 605.2,584.6 606.3,574.2 607.4,581.4 608.5,582.0 609.6,584.6 610.7,576.8 611.8,583.5 612.9,578.4 614.0,585.5 615.1,582.4 616.2,584.4 617.3,588.9 618.4,578.9 619.5,576.5 620.6,586.5 621.7,582.9 622.8,592.9 623.9,583.9 625.0,584.7 626.1,588.4 627.2,587.2 628.3,586.9 629.4,592.8 630.5,597.0 631.6,581.7 632.7,592.2 633.8,590.3 634.9,587.0 636.0,586.7 637.1,593.9 638.2,593.4 639.3,594.2 640.4,601.7 641.5,592.8 642.6,586.5 643.7,595.8 644.8,585.0 645.9,610.0 647.0,590.9 648.1,599.2 649.2,592.0 650.3,593.2 651.4,597.4 652.5,591.9 653.6,604.9 654.7,581.7 655.8,592.5 656.9,593.0 658.0,586.0" fill="none" stroke="#2a6db5" stroke-width="4.6" stroke-linejoin="round" stroke-linecap="round"/>
<polyline points="119.0,669.8 121.0,669.4 123.0,667.8 125.0,666.2 127.0,664.7 129.0,663.1 131.0,661.5 133.0,660.1 135.0,658.7 137.0,657.3 139.0,655.9 141.0,654.5 143.0,653.1 145.0,651.7 147.0,650.3 149.0,648.9 151.0,647.5 153.0,645.9 155.0,644.1 157.0,642.3 159.0,640.5 161.0,638.7 163.0,636.9 165.0,635.1 167.0,633.3 169.0,631.5 171.0,629.7 173.0,627.9 175.0,626.5 177.0,625.1 179.0,623.7 181.0,622.3 183.0,620.9 185.0,619.5 187.0,618.1 189.0,616.7 191.0,615.3 193.0,613.9 195.0,612.6 197.0,611.4 199.0,610.2 201.0,609.0 203.0,607.8 205.0,606.6 207.0,605.4 209.0,604.2 211.0,603.0 213.0,601.7 215.0,600.5 217.0,598.7 219.0,596.9 221.0,595.1 223.0,593.3 225.0,591.5 227.0,589.7 229.0,587.9 231.0,586.1 233.0,584.3 235.0,582.5 237.0,581.2 239.0,580.2 241.0,579.2 243.0,578.2 245.0,577.2 247.0,576.2 249.0,575.2 251.0,574.2 253.0,573.2 255.0,572.2 257.0,571.1 259.0,569.9 261.0,568.7 263.0,567.5 265.0,566.3 267.0,565.1 269.0,563.9 271.0,562.7 273.0,561.5 275.0,560.3 277.0,559.1 279.0,557.9 281.0,556.7 283.0,555.5 285.0,554.4 287.0,553.2 289.0,552.0 291.0,550.8 293.0,549.6 295.0,548.4 297.0,547.2 299.0,546.0 301.0,545.2 303.0,544.4 305.0,543.6 307.0,542.8 309.0,542.0 311.0,541.2 313.0,540.4 315.0,539.6 317.0,538.8 319.0,538.0 321.0,537.1 323.0,536.1 325.0,535.1 327.0,534.1 329.0,533.1 331.0,532.1 333.0,531.1 335.0,530.1 337.0,529.1 339.0,528.1 341.0,527.2 343.0,526.8 345.0,526.4 347.0,526.0 349.0,525.6 351.0,525.2 353.0,524.8 355.0,524.4 357.0,524.0 359.0,523.6 361.0,523.2 363.0,522.7 365.0,522.2 367.0,521.7 369.0,521.2 371.0,520.7 373.0,520.2 375.0,519.7 377.0,519.2 379.0,518.7 381.0,518.2 383.0,517.6 385.0,517.1 387.0,516.6 389.0,516.0 391.0,515.7 393.0,516.2 395.0,516.7 397.0,517.2 399.0,517.7 401.0,518.2 403.0,518.8 405.0,519.3 407.0,519.8 409.0,520.3 411.0,520.8 413.0,521.2 415.0,521.6 417.0,522.0 419.0,522.4 421.0,522.8 423.0,523.2 425.0,523.6 427.0,524.0 429.0,524.4 431.0,524.8 433.0,525.2 435.0,525.8 437.0,526.4 439.0,527.0 441.0,527.5 443.0,528.1 445.0,528.7 447.0,529.3 449.0,530.0 451.0,530.8 453.0,531.5 455.0,532.3 457.0,533.0 459.0,533.8 461.0,534.5 463.0,535.3 465.0,535.9 467.0,536.5 469.0,537.1 471.0,537.7 473.0,538.3 475.0,538.9 477.0,539.5 479.0,540.1 481.0,540.7 483.0,541.3 485.0,541.9 487.0,542.4 489.0,542.9 491.0,543.4 493.0,543.9 495.0,544.4 497.0,544.9 499.0,545.4 501.0,545.9 503.0,546.4 505.0,546.9 507.0,547.5 509.0,548.2 511.0,548.9 513.0,549.6 515.0,550.3 517.0,551.0 519.0,551.7 521.0,552.3 523.0,553.0 525.0,553.7 527.0,554.4 529.0,555.0 531.0,555.6 533.0,556.2 535.0,556.8 537.0,557.4 539.0,558.0 541.0,558.6 543.0,559.2 545.0,559.8 547.0,560.4 549.0,561.2 551.0,562.1 553.0,563.0 555.0,563.9 557.0,564.8 559.0,565.7 561.0,566.7 563.0,567.6 565.0,568.5 567.0,569.4 569.0,570.3 571.0,570.8 573.0,571.4 575.0,572.0 577.0,572.6 579.0,573.2 581.0,573.5 583.0,573.7 585.0,573.9 587.0,574.1 589.0,574.3 591.0,575.0 593.0,576.0 595.0,577.0 597.0,578.0 599.0,579.0 601.0,579.7 603.0,579.9 605.0,580.1 607.0,580.3 609.0,580.5 611.0,580.8 613.0,581.6 615.0,582.4 617.0,583.2 619.0,584.0 621.0,584.8 623.0,585.7 625.0,586.7 627.0,587.7 629.0,588.7 631.0,589.7 633.0,590.6 635.0,591.4 637.0,592.2 639.0,593.0 641.0,593.8 643.0,594.3 645.0,594.3 647.0,594.3 649.0,594.3 651.0,594.0 653.0,592.0 655.0,590.0 657.0,588.0" fill="none" stroke="#2a6db5" stroke-width="9" stroke-linejoin="round"/>
<path d="M134.1,636.5 C134.6,635.2 135.8,630.7 137.0,629.0 C138.2,627.3 139.5,626.7 141.5,626.4 C143.5,626.1 146.0,626.7 148.8,627.4 C151.6,628.1 155.3,631.1 158.3,630.6 C161.3,630.1 164.2,627.4 166.7,624.3 C169.1,621.1 170.6,616.6 173.0,611.7 C175.4,606.8 178.2,599.1 181.3,594.9 C184.4,590.7 187.6,588.6 191.8,586.5 C196.0,584.4 202.7,583.7 206.5,582.3 C210.3,580.9 211.4,581.2 214.9,578.1 C218.4,575.0 223.3,567.6 227.5,563.4 C231.7,559.2 235.2,555.6 240.1,553.0 C245.0,550.4 252.0,549.6 256.9,547.7 C261.8,545.8 264.9,544.0 269.5,541.4 C274.1,538.8 279.3,534.3 284.2,532.0 C289.1,529.7 293.6,529.2 298.8,527.8 C304.0,526.4 310.7,525.0 315.6,523.6 C320.5,522.2 324.7,520.6 328.2,519.4 C331.7,518.2 332.8,516.9 336.6,516.2 C340.5,515.5 346.4,515.6 351.3,515.2 C356.2,514.9 360.8,514.8 366.0,514.1 C371.2,513.4 378.4,511.7 382.8,511.0 C387.2,510.3 387.8,509.5 392.6,509.9 C397.4,510.2 404.9,512.6 411.5,513.1 C418.1,513.6 426.6,512.8 432.5,513.1 C438.4,513.5 441.9,513.6 447.1,515.2 C452.3,516.8 458.3,520.8 463.9,522.5 C469.5,524.2 475.8,524.7 480.7,525.7 C485.6,526.8 488.4,526.9 493.3,528.8 C498.2,530.7 504.5,534.9 510.1,537.2 C515.7,539.5 521.3,540.6 526.9,542.5 C532.5,544.4 538.1,546.1 543.7,548.7 C549.3,551.3 554.5,555.4 560.4,558.2 C566.3,561.0 572.6,561.5 579.3,565.5 C585.9,569.5 593.3,577.0 600.3,582.3 C607.3,587.5 614.3,592.5 621.3,597.0 C628.3,601.5 636.0,605.4 642.3,609.6 C648.6,613.8 656.3,620.1 659.1,622.2" fill="none" stroke="#de4877" stroke-width="5" stroke-linecap="round"/>
<polyline points="119.0,668.0 120.5,669.5 122.0,666.8 123.5,665.6 125.0,664.1 126.5,664.2 128.0,663.0 129.5,660.8 131.0,659.6 132.5,658.4 134.0,659.0 135.5,656.8 137.0,655.7 138.5,653.8 140.0,654.2 141.5,653.2 143.0,651.7 144.5,650.0 146.0,648.8 147.5,649.4 149.0,647.5 150.5,646.6 152.0,644.1 153.5,644.3 155.0,643.0 156.5,641.8 158.0,639.4 159.5,637.8 161.0,637.7 162.5,636.2 164.0,635.0 165.5,632.0 167.0,631.9 168.5,630.6 170.0,630.0 171.5,627.3 173.0,625.7 174.5,625.4 176.0,624.8 177.5,623.9 179.0,621.2 180.5,621.1 182.0,619.9 183.5,620.2 185.0,617.7 186.5,616.5 188.0,615.5 189.5,615.3 191.0,614.6 192.5,612.1 194.0,611.4 195.5,610.3 197.0,611.1 198.5,608.8 200.0,607.9 201.5,606.4 203.0,606.7 204.5,606.1 206.0,604.2 207.5,603.2 209.0,602.0 210.5,602.8 212.0,600.9 213.5,600.0 215.0,598.0 216.5,598.0 218.0,596.9 219.5,595.2 221.0,593.2 222.5,591.4 224.0,591.7 225.5,589.8 227.0,588.6 228.5,585.7 230.0,585.7 231.5,584.5 233.0,583.5 234.5,581.1 236.0,579.3 237.5,579.8 239.0,579.0 240.5,578.6 242.0,576.1 243.5,576.4 245.0,575.6 246.5,575.9 248.0,573.9 249.5,572.7 251.0,572.6 252.5,572.3 254.0,572.0 255.5,569.5 257.0,569.5 258.5,568.4 260.0,569.0 261.5,566.8 263.0,565.6 264.5,564.6 266.0,564.6 267.5,564.2 269.0,562.0 270.5,561.3 272.0,560.0 273.5,560.9 275.0,558.9 276.5,557.8 278.0,556.2 279.5,556.4 281.0,556.0 282.5,554.3 284.0,553.1 285.5,551.7 287.0,552.6 288.5,550.9 290.0,550.1 291.5,547.9 293.0,548.2 294.5,547.7 296.0,546.7 297.5,545.1 299.0,543.6 300.5,544.5 302.0,543.6 303.5,543.3 305.0,541.0 306.5,541.5 308.0,541.1 309.5,541.1 311.0,539.5 312.5,538.2 314.0,538.7 315.5,538.2 317.0,538.2 318.5,535.7 320.0,535.9 321.5,535.2 323.0,535.6 324.5,533.8 326.0,532.4 327.5,532.1 329.0,531.9 330.5,531.8 332.0,529.4 333.5,529.1 335.0,528.1 336.5,528.9 338.0,527.2 339.5,526.0 341.0,525.0 342.5,525.5 344.0,526.0 345.5,524.5 347.0,524.2 348.5,523.3 350.0,524.9 351.5,523.7 353.0,523.3 354.5,522.0 356.0,522.7 357.5,523.1 359.0,522.2 360.5,521.5 362.0,520.5 363.5,521.8 365.0,520.9 366.5,520.8 368.0,518.9 369.5,519.5 371.0,519.6 372.5,519.3 374.0,518.3 375.5,517.0 377.0,518.1 378.5,517.5 380.0,517.7 381.5,515.5 383.0,516.0 384.5,515.8 386.0,516.2 387.5,514.9 389.0,513.6 390.5,514.1 392.0,514.7 393.5,515.9 395.0,514.4 396.5,515.4 398.0,515.6 399.5,517.4 401.0,516.9 402.5,516.5 404.0,517.1 405.5,518.0 407.0,519.3 408.5,518.1 410.0,518.8 411.5,518.7 413.0,520.7 414.5,520.2 416.0,520.1 417.5,519.9 419.0,520.9 420.5,522.2 422.0,521.4 423.5,521.6 425.0,521.1 426.5,523.3 428.0,523.0 429.5,523.2 431.0,522.4 432.5,523.4 434.0,524.7 435.5,524.7 437.0,524.8 438.5,524.2 440.0,526.3 441.5,526.4 443.0,527.3 444.5,526.1 446.0,527.2 447.5,528.3 449.0,529.1 450.5,529.1 452.0,528.6 453.5,530.4 455.0,530.9 456.5,532.3 458.0,531.0 459.5,532.2 461.0,532.9 462.5,534.4 464.0,534.3 465.5,533.8 467.0,534.9 468.5,535.5 470.0,537.0 471.5,535.7 473.0,536.6 474.5,536.7 476.0,538.7 477.5,538.5 479.0,538.2 480.5,538.6 482.0,539.4 483.5,541.1 485.0,540.1 486.5,540.6 488.0,540.3 489.5,542.4 491.0,542.2 492.5,542.3 494.0,541.9 495.5,542.8 497.0,544.3 498.5,543.8 500.0,544.1 501.5,543.4 503.0,545.6 504.5,545.6 506.0,546.0 507.5,545.3 509.0,546.3 510.5,547.8 512.0,548.1 513.5,548.4 515.0,547.6 516.5,549.7 518.0,550.0 519.5,551.1 521.0,550.0 522.5,551.0 524.0,552.1 525.5,553.1 527.0,553.2 528.5,552.4 530.0,553.9 531.5,554.3 533.0,555.8 534.5,554.5 536.0,555.3 537.5,555.8 539.0,557.3 540.5,557.4 542.0,556.7 543.5,557.6 545.0,558.2 546.5,560.0 548.0,558.8 549.5,559.7 551.0,559.9 552.5,562.1 554.0,562.4 555.5,562.3 557.0,562.8 558.5,563.7 560.0,565.8 561.5,565.2 563.0,566.0 564.5,565.7 566.0,568.1 567.5,568.5 569.0,568.9 570.5,568.5 572.0,569.2 573.5,570.9 575.0,570.7 576.5,571.1 578.0,570.2 579.5,572.3 581.0,572.3 582.5,572.7 584.0,571.5 585.5,572.0 587.0,573.1 588.5,573.2 590.0,573.3 591.5,572.6 593.0,574.7 594.5,575.4 596.0,576.9 597.5,576.0 599.0,577.0 600.5,578.1 602.0,578.9 603.5,578.9 605.0,577.6 606.5,578.7 608.0,578.8 609.5,580.2 611.0,578.8 612.5,579.5 614.0,580.0 615.5,581.8 617.0,582.2 618.5,581.7 620.0,582.5 621.5,583.2 623.0,585.4 624.5,584.7 626.0,585.5 627.5,585.6 629.0,587.9 630.5,588.5 632.0,588.5 633.5,588.7 635.0,589.4 636.5,591.5 638.0,591.1 639.5,591.7 641.0,591.2 642.5,593.3 644.0,593.2 645.5,593.1 647.0,592.1 648.5,592.2 650.0,593.5 651.5,592.3 653.0,590.8 654.5,587.8 656.0,587.8 657.5,586.7 659.0,587.2" fill="none" stroke="#7fd2df" stroke-width="2.6" stroke-linejoin="round"/>
</g>
<line x1="122.6" y1="512.8" x2="657" y2="512.8" stroke="#111" stroke-width="2.3" stroke-dasharray="10.7,10.7"/>
<rect x="121.4" y="493.9" width="536.7" height="422.8" fill="none" stroke="#000" stroke-width="2.5"/>
<line x1="333" y1="540" x2="453" y2="540" stroke="#111" stroke-width="2.3" stroke-dasharray="11,10.5"/>
<polygon points="321.9,540 334.5,533.5 334.5,546.5" fill="#000"/><polygon points="463.9,540 451.3,533.5 451.3,546.5" fill="#000"/>
<text x="543.7" y="538.7" font-size="24.6" text-anchor="start" fill="#000" >–0.94 dB</text>
<text x="287.3" y="579.8" font-size="24.5" text-anchor="start" fill="#000" >1 dB BW = 21.4 nm</text>
<text x="105" y="504" font-size="29.5" text-anchor="end" fill="#000" >0</text>
<text x="105" y="714.2" font-size="29.5" text-anchor="end" fill="#000" >–10</text>
<text x="105" y="925" font-size="29.5" text-anchor="end" fill="#000" >–20</text>
<text x="116.5" y="958" font-size="29.5" text-anchor="start" fill="#000" >1510</text>
<text x="592" y="958" font-size="29.5" text-anchor="start" fill="#000" >1590</text>
<text x="297.2" y="994.2" font-size="29.1" text-anchor="start" fill="#000" >Wavelength (nm)</text>
<text x="-707.2" y="24" font-size="29.3" text-anchor="middle" transform="rotate(-90)">CE (dB)</text>
<line x1="497.5" y1="812.5" x2="535.2" y2="812.5" stroke="#de4877" stroke-width="5" stroke-linecap="round"/>
<line x1="497.5" y1="851.7" x2="535.2" y2="851.7" stroke="#2a6db5" stroke-width="5" stroke-linecap="round"/>
<line x1="497" y1="891.5" x2="535.5" y2="891.5" stroke="#7fd2df" stroke-width="3"/>
<text x="553.9" y="820.8" font-size="24.5" text-anchor="start" fill="#000" >Sim.</text>
<text x="553.9" y="859.5" font-size="24.5" text-anchor="start" fill="#000" >Exp.</text>
<text x="553.9" y="898.5" font-size="24.5" text-anchor="start" fill="#000" >Smooth</text>
<defs><linearGradient id="pkdn" x1="0" y1="0" x2="0" y2="1"><stop offset="0" stop-color="#e8707e"/><stop offset="1" stop-color="#e8707e" stop-opacity="0"/></linearGradient><linearGradient id="pkup" x1="0" y1="1" x2="0" y2="0"><stop offset="0" stop-color="#e8707e"/><stop offset="1" stop-color="#e8707e" stop-opacity="0"/></linearGradient></defs>
<rect x="194.3" y="674.1" width="110.3" height="59.9" fill="#fff" stroke="#2b7bbf" stroke-width="1.5"/>
<rect x="341" y="681.5" width="112.2" height="38.1" fill="#fff" stroke="#2b7bbf" stroke-width="1.5"/>
<text x="248.75" y="701.2" font-size="16.5" text-anchor="middle" fill="#000" >Polarization</text>
<text x="248.25" y="720.8" font-size="16.5" text-anchor="middle" fill="#000" >controller</text>
<text x="396.5" y="706" font-size="16.5" text-anchor="middle" fill="#000" >Tunable laser</text>
<line x1="305.8" y1="702.8" x2="341" y2="702.8" stroke="#a0a0a0" stroke-width="2"/>
<polygon points="317,702.8 323,699 321,702.8 323,706.6" fill="#a0a0a0"/>
<path d="M305.8,724 Q314,725 320,736 L365.2,841.4" stroke="#a0a0a0" stroke-width="2" fill="none"/>
<polygon points="335.5,770 332,761.5 334.6,764 338.5,759.5" fill="#a0a0a0"/>
<line x1="365.2" y1="841.4" x2="374.4" y2="858.8" stroke="url(#pkdn)" stroke-width="3"/>
<rect x="194.8" y="800.6" width="143.4" height="27.6" fill="#c9c9c9"/>
<text x="267.7" y="818.6" font-size="16.5" text-anchor="middle" fill="#000" >Sample stage</text>
<rect x="220.2" y="828.2" width="97" height="10.5" fill="#7a7a7a"/>
<rect x="225.8" y="835.1" width="4.8" height="3.7" fill="#fff"/>
<rect x="232.1" y="835.1" width="4.8" height="3.7" fill="#fff"/>
<rect x="238.4" y="835.1" width="4.8" height="3.7" fill="#fff"/>
<rect x="295.2" y="835.1" width="4.8" height="3.7" fill="#fff"/>
<rect x="301.5" y="835.1" width="4.8" height="3.7" fill="#fff"/>
<rect x="307.8" y="835.1" width="4.8" height="3.7" fill="#fff"/>
<rect x="272.3" y="871.9" width="137.3" height="27" fill="#c9c9c9"/>
<text x="337.7" y="889.3" font-size="16.5" text-anchor="middle" fill="#000" >Sample stage</text>
<rect x="289.1" y="861.3" width="96.7" height="9.5" fill="#7a7a7a"/>
<rect x="294.7" y="861.3" width="4.8" height="3.6" fill="#fff"/>
<rect x="301.0" y="861.3" width="4.8" height="3.6" fill="#fff"/>
<rect x="307.3" y="861.3" width="4.8" height="3.6" fill="#fff"/>
<rect x="363.7" y="861.3" width="4.8" height="3.6" fill="#fff"/>
<rect x="370.0" y="861.3" width="4.8" height="3.6" fill="#fff"/>
<rect x="376.3" y="861.3" width="4.8" height="3.6" fill="#fff"/>
<rect x="162.5" y="861.8" width="103.3" height="25.2" fill="#fff" stroke="#e0407a" stroke-width="1.5"/>
<text x="215.1" y="879.7" font-size="16.5" text-anchor="middle" fill="#000" >Photodiode</text>
<line x1="233" y1="842.5" x2="239.6" y2="858.8" stroke="url(#pkdn)" stroke-width="3"/>
<line x1="300.4" y1="858.8" x2="308" y2="842" stroke="url(#pkup)" stroke-width="3"/>
<line x1="240.1" y1="840.9" x2="246.2" y2="854.2" stroke="#999" stroke-width="1.3"/>
<polygon points="246.2,854.2 241.9,850.7 246.3,848.7" fill="#999"/>
<line x1="294.2" y1="859.3" x2="299.8" y2="846" stroke="#999" stroke-width="1.3"/>
<polygon points="299.8,846 300.1,851.5 295.6,849.7" fill="#999"/>
<text x="744.4" y="505.4" font-size="45" font-weight="bold" text-anchor="start" fill="#000" >e</text>
<g filter="url(#soft2)">
<polygon points="781.9,613.6 1430.1,515.5 1554.7,593.5 905.8,686.6" fill="#e3e3e5" />
<polygon points="905.8,686.6 1554.7,593.5 1552.0,755.7 905.8,851.3" fill="#f0f0f2" />
<polygon points="781.9,613.6 905.8,686.6 905.8,851.3 781.9,774.9" fill="#ededf0" />
<g stroke="#b8bcc4" stroke-width="0.8" stroke-dasharray="3,3" fill="none" opacity="0.6"><line x1="782" y1="690" x2="1430" y2="592"/><line x1="782" y1="700" x2="1430" y2="602"/><line x1="782" y1="745" x2="1430" y2="647"/><line x1="782" y1="755" x2="1430" y2="657"/><line x1="782" y1="690" x2="906" y2="763"/><line x1="782" y1="745" x2="906" y2="818"/><line x1="1430" y1="592" x2="1554" y2="670"/><line x1="1430" y1="647" x2="1554" y2="725"/><line x1="835" y1="795" x2="906" y2="838"/><line x1="835" y1="805" x2="906" y2="848"/></g>
<defs><linearGradient id="grayL" x1="0" y1="0" x2="1" y2="1"><stop offset="0" stop-color="#b4b4b4"/><stop offset="1" stop-color="#9c9c9c"/></linearGradient></defs>
<polygon points="781.9,774.9 905.8,851.3 905.8,922.6 781.9,847.9" fill="url(#grayL)" />
<polygon points="781.9,774.9 905.8,756.2 905.8,851.3" fill="#2b282a" />
<polygon points="905.8,756.2 1183.3,716.5 1299.5,794.8 905.8,851.3" fill="#434245" />
<polygon points="1256.6,705.2 1428.0,679.3 1552.0,755.7 1409.3,777.1" fill="#414043" />
<polygon points="1183.3,716.5 1256.6,705.2 1409.3,777.1 1299.5,794.8" fill="#f2c520" />
<line x1="1299.5" y1="795" x2="1409.3" y2="777.3" stroke="#a8d060" stroke-width="1.5"/>
<polygon points="905.8,851.3 1297.0,797.3 1216.2,876.9 905.8,922.6" fill="#1e1e1e" />
<polygon points="1409.3,777.1 1552.0,755.7 1553.3,821.3 1424.5,840.3" fill="#222222" />
<polygon points="1350.0,789.7 1409.3,777.1 1424.5,840.3" fill="#a9bfd6" />
<g stroke="#a9c2e0" stroke-width="1.3" fill="none"><polyline points="781.9,774.9 905.8,851.3 1297,797.3"/><polyline points="1409.3,777.1 1552,755.7"/><line x1="1297" y1="797.3" x2="1216.2" y2="876.9"/><line x1="1409.3" y1="777.1" x2="1424.5" y2="840.3"/><line x1="905.8" y1="922.6" x2="1216.2" y2="876.9"/><line x1="1424.5" y1="840.3" x2="1553.3" y2="821.3"/></g>
<polygon points="1191.5,565.6 1264.6,610.5 1367.7,594.6 1367.7,599.3 1264.6,613.9 1191.5,568.4" fill="#c8981a" />
<polygon points="1191.5,565.6 1296.8,549.4 1367.7,594.6 1264.6,610.5" fill="#ecbe1f" />
<defs><clipPath id="ringhole"><ellipse cx="934" cy="699.5" rx="57" ry="13"/></clipPath></defs>
<ellipse cx="932.7" cy="701" rx="70" ry="21.5" fill="#b9281a"/>
<ellipse cx="932.7" cy="694" rx="70" ry="21.5" fill="#e03d25"/>
<ellipse cx="934" cy="699.5" rx="57" ry="13" fill="#bf2c1c"/>
<ellipse cx="934" cy="706" rx="57" ry="13" fill="#eceef1" clip-path="url(#ringhole)"/>
<polygon points="875.3,747.3 1269.2,688.0 1269.2,694.3 875.3,753.6" fill="#b8281a" />
<polygon points="863.9,734.7 951.0,720.8 994.0,714.5 1057.0,703.1 1102.5,688.0 1238.9,666.5 1269.2,688.0 875.3,747.3" fill="#dc3a22" />
<polygon points="1258.0,667.0 1305.0,659.0 1349.0,683.5 1349.0,686.0 1290.0,692.0 1287.0,691.0" fill="#a32016" />
<polygon points="1256.0,664.0 1267.5,662.3 1296.5,687.3 1285.0,689.0" fill="#d83822" />
<polygon points="1272.5,662.0 1284.0,660.3 1313.0,685.3 1301.5,687.0" fill="#d83822" />
<polygon points="1289.0,659.5 1300.5,657.8 1329.5,682.8 1318.0,684.5" fill="#d83822" />
<polygon points="1305.0,657.5 1316.5,655.8 1345.5,680.8 1334.0,682.5" fill="#d83822" />
<polygon points="1364.0,712.5 1522.1,686.8 1522.1,692.4 1364.0,717.4" fill="#4d7dc0" />
<polygon points="1315.0,691.0 1489.9,666.6 1522.1,686.8 1364.0,712.5" fill="#6a9ad8" />
<polygon points="1268.0,694.0 1330.0,690.0 1364.0,713.0 1364.0,717.0 1298.0,722.0 1293.0,721.0" fill="#6c9ad6" />
<line x1="1284" y1="694" x2="1304.5" y2="719.7" stroke="#3e68ac" stroke-width="2.2"/>
<line x1="1299.4" y1="692.5" x2="1320.6" y2="718" stroke="#3e68ac" stroke-width="2.2"/>
<line x1="1316.4" y1="691.7" x2="1339.3" y2="717.2" stroke="#3e68ac" stroke-width="2.2"/>
<line x1="1331.7" y1="691.7" x2="1358" y2="715.5" stroke="#3e68ac" stroke-width="2.2"/>
<line x1="1297" y1="722" x2="1364" y2="716" stroke="#4a78bc" stroke-width="2"/>
<g stroke="#a9c2e0" stroke-width="1.3" fill="none"><polygon points="781.9,613.6 1430.1,515.5 1554.7,593.5 905.8,686.6"/><line x1="781.9" y1="613.6" x2="781.9" y2="847.9"/><line x1="905.8" y1="686.6" x2="905.8" y2="922.6"/><line x1="1554.7" y1="593.5" x2="1554.7" y2="821.3"/><line x1="1430.1" y1="515.5" x2="1430.1" y2="680"/><line x1="781.9" y1="847.9" x2="905.8" y2="922.6"/></g>
</g>
<polygon points="1708.0,528.5 1736.0,544.0 1736.0,557.0 1708.0,541.5" fill="#dcc868" stroke="#78b850" stroke-width="1.2" opacity="1"/>
<polygon points="1736.0,544.0 1788.6,535.3 1788.6,548.3 1736.0,557.0" fill="#f0cf50" stroke="#78b850" stroke-width="1.2" opacity="1"/>
<polygon points="1708.0,528.5 1760.6,519.5 1788.6,535.3 1736.0,544.0" fill="#f2c82a" stroke="#78b850" stroke-width="1.2" opacity="1"/>
<polygon points="1708.0,595.0 1736.0,610.5 1736.0,623.5 1708.0,608.0" fill="#f3f5f9" stroke="#b8c6de" stroke-width="1.2" opacity="1"/>
<polygon points="1736.0,610.5 1788.6,601.8 1788.6,614.8 1736.0,623.5" fill="#eff2f7" stroke="#b8c6de" stroke-width="1.2" opacity="1"/>
<polygon points="1708.0,595.0 1760.6,586.0 1788.6,601.8 1736.0,610.5" fill="#eceff5" stroke="#b8c6de" stroke-width="1.2" opacity="1"/>
<polygon points="1708.0,661.5 1736.0,677.0 1736.0,690.0 1708.0,674.5" fill="#36383e" stroke="#b8c0d0" stroke-width="1.2" opacity="1"/>
<polygon points="1736.0,677.0 1788.6,668.3 1788.6,681.3 1736.0,690.0" fill="#3c3e44" stroke="#b8c0d0" stroke-width="1.2" opacity="1"/>
<polygon points="1708.0,661.5 1760.6,652.5 1788.6,668.3 1736.0,677.0" fill="#54565e" stroke="#b8c0d0" stroke-width="1.2" opacity="1"/>
<polygon points="1708.0,728.0 1736.0,743.5 1736.0,756.5 1708.0,741.0" fill="#c42a1c" stroke="#d04030" stroke-width="1.2" opacity="1"/>
<polygon points="1736.0,743.5 1788.6,734.8 1788.6,747.8 1736.0,756.5" fill="#c8301e" stroke="#d04030" stroke-width="1.2" opacity="1"/>
<polygon points="1708.0,728.0 1760.6,719.0 1788.6,734.8 1736.0,743.5" fill="#dc3422" stroke="#d04030" stroke-width="1.2" opacity="1"/>
<polygon points="1708.0,796.0 1736.0,811.5 1736.0,824.5 1708.0,809.0" fill="#4a7cc4" stroke="#6a9ad8" stroke-width="1.2" opacity="1"/>
<polygon points="1736.0,811.5 1788.6,802.8 1788.6,815.8 1736.0,824.5" fill="#5084c8" stroke="#6a9ad8" stroke-width="1.2" opacity="1"/>
<polygon points="1708.0,796.0 1760.6,787.0 1788.6,802.8 1736.0,811.5" fill="#6196da" stroke="#6a9ad8" stroke-width="1.2" opacity="1"/>
<text x="1688" y="544.8" font-size="24.7" font-weight="bold" text-anchor="end" fill="#000" >Metallic mirror</text>
<text x="1689.5" y="607.6" font-size="24.7" font-weight="bold" text-anchor="end">SiO<tspan font-size="16.5" dy="8.5">2</tspan></text>
<text x="1690" y="674.8" font-size="24.7" font-weight="bold" text-anchor="end" fill="#000" >Bulk Si</text>
<text x="1689.5" y="739.4" font-size="24.7" font-weight="bold" text-anchor="end">Si<tspan font-size="16.5" dy="7.5">2</tspan><tspan dy="-7.5">N</tspan><tspan font-size="16.5" dy="7.5">3</tspan></text>
<text x="1690" y="816.6" font-size="24.7" font-weight="bold" text-anchor="end" fill="#000" >Device Si</text>
</svg></body></html>
